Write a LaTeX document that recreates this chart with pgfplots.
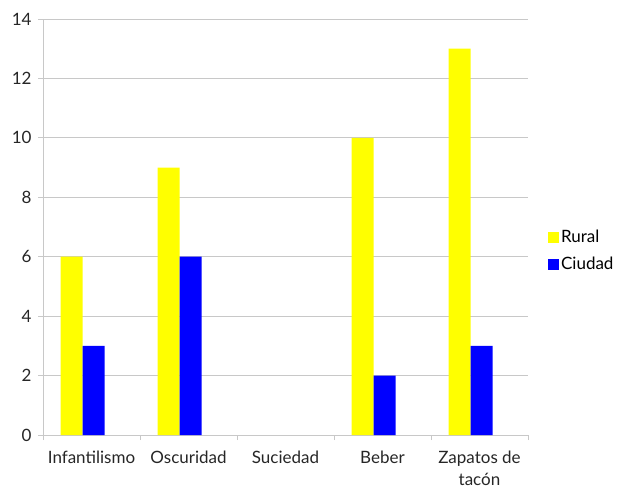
\documentclass[border=0pt]{standalone}
\usepackage{pgfplots}
\pgfplotsset{compat=1.18}
\usepackage{fontspec}
\setmainfont{Lato}
\definecolor{ruralc}{HTML}{FFFF00}
\definecolor{ciudadc}{HTML}{0000FF}
\definecolor{gridc}{HTML}{C8C8C8}
\begin{document}
\begin{tikzpicture}[font=\fontsize{17bp}{22bp}\selectfont]
\begin{axis}[
  at={(0,0)}, anchor=south west,
  scale only axis, width=485bp, height=416bp,
  xmin=-0.5, xmax=4.5, ymin=0, ymax=14,
  axis x line*=bottom, axis y line*=left,
  axis line style={draw=gridc, line width=0.8pt, -},
  ytick={0,2,...,14},
  ymajorgrids, grid style={draw=gridc, line width=0.8pt},
  xtick={0,1,2,3,4},
  xticklabels={Infantilismo, Oscuridad, Suciedad, Beber, {Zapatos de\\tacón}},
  xticklabel style={align=center, text depth=0pt, yshift=-7bp},
  major x tick style={draw=none},
  minor xtick={-0.5,0.5,...,4.5},
  minor x tick style={draw=gridc, line width=0.8pt},
  minor tick length=5bp,
  major tick length=5bp,
  tick align=outside,
  major y tick style={draw=gridc, line width=0.8pt},
  yticklabel style={xshift=-3bp},
  /pgf/number format/assume math mode=true,
  tick label style={font=\fontsize{17bp}{22bp}\selectfont, text=black!85},
  ybar, bar width=22bp,
  legend style={at={(rel axis cs:1.041,0.4435)}, anchor=west, draw=none, fill=none,
    inner sep=0pt, row sep=9bp, font=\fontsize{17bp}{22bp}\selectfont,
    legend cell align=left},
  legend image code/.code={\fill[#1] (0bp,-5.5bp) rectangle (11bp,5.5bp);},
]
\addplot[fill=ruralc, draw=none, bar shift=-20bp] coordinates {(0,6) (1,9) (3,10) (4,13)};
\addlegendentry{Rural}
\addplot[fill=ciudadc, draw=none, bar shift=2bp] coordinates {(0,3) (1,6) (3,2) (4,3)};
\addlegendentry{Ciudad}
\end{axis}
\pgfresetboundingbox
\path[use as bounding box] (-43bp,-56bp) rectangle (587bp,435bp);
\end{tikzpicture}
\end{document}
